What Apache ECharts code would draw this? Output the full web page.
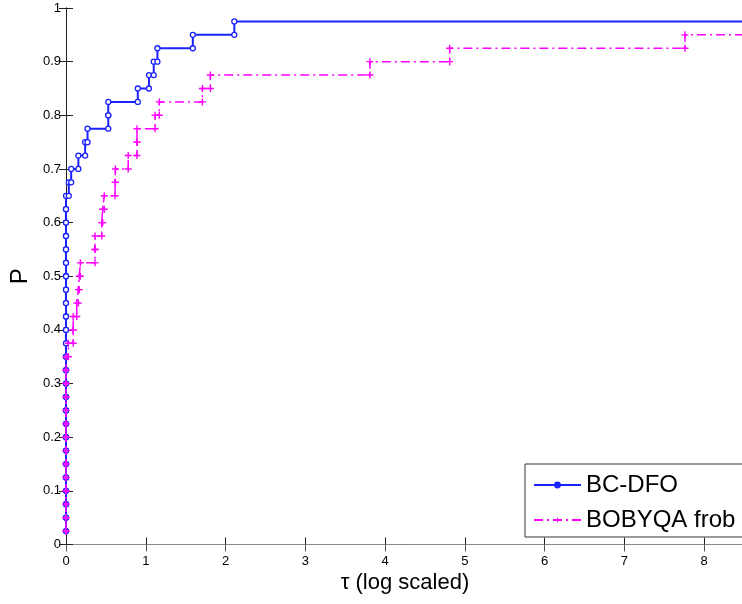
<!DOCTYPE html>
<html>
<head>
<meta charset="utf-8">
<script src="https://cdn.jsdelivr.net/npm/echarts@6/dist/echarts.min.js"></script>
<style>
html,body{margin:0;padding:0;background:#fff;}
#c{width:742px;height:604px;}
</style>
</head>
<body>
<div id="c"></div>
<script>
// ---- data ----
var seriesNames = ['BC-DFO', 'BOBYQA frob'];
var xTickLabels = ['0','1','2','3','4','5','6','7','8'];
var tauMax = 8.5;

var bcTau = [0,0,0,0,0,0,0,0,0,0,0,0,0,0,0,0,0,0,0,0,0,0,0,0,0,0,
             0.035,0.065,0.155,0.24,0.27,0.53,0.53,0.9,1.04,1.1,1.146,1.59,2.11];
var bcP   = [0.025,0.05,0.075,0.1,0.125,0.15,0.175,0.2,0.225,0.25,0.275,0.3,0.325,0.35,0.375,0.4,0.425,0.45,0.475,0.5,0.525,0.55,0.575,0.6,0.625,0.65,
             0.675,0.7,0.725,0.75,0.775,0.8,0.825,0.85,0.875,0.9,0.925,0.95,0.975];

var boTau = [0,0,0,0,0,0,0,0,0,0,0,0,0,0,
             0.03,0.09,0.09,0.135,0.155,0.167,0.18,0.364,0.364,0.448,0.46,0.48,0.615,0.62,0.78,0.89,0.89,1.117,1.17,1.71,1.81,3.81,4.81,7.76];
var boP   = [0.025,0.05,0.075,0.1,0.125,0.15,0.175,0.2,0.225,0.25,0.275,0.3,0.325,0.35,
             0.375,0.4,0.425,0.45,0.475,0.5,0.525,0.55,0.575,0.6,0.625,0.65,0.675,0.7,0.725,0.75,0.775,0.8,0.825,0.85,0.875,0.9,0.925,0.95];

// build stair vertices (markers at every corner, like MATLAB stairs output)
function stairs(t, p, xEnd) {
  var out = [];
  for (var i = 0; i < t.length; i++) {
    if (i > 0) out.push([t[i], p[i-1]]);
    out.push([t[i], p[i]]);
  }
  out.push({value: [xEnd, p[p.length-1]], symbol: 'none'});
  return out;
}

var blue = '#1a22ff';
var magenta = '#ff00ff';
var plusPath = 'path://M4,0 H6 V4 H10 V6 H6 V10 H4 V6 H0 V4 H4 Z';
var axisCol = '#222';
var font = 'Liberation Sans, Arial, Helvetica, sans-serif';

var chart = echarts.init(document.getElementById('c'), null, {renderer: 'canvas'});
chart.setOption({
  animation: false,
  backgroundColor: '#fff',
  textStyle: {fontFamily: font},
  grid: {left: 66, right: -2, top: 8, bottom: 59.5, containLabel: false, outerBoundsMode: 'none'},
  legend: {
    orient: 'vertical',
    left: 525, top: 464,
    padding: [8, 30, 4, 8],
    itemWidth: 47, itemHeight: 6, itemGap: 9,
    backgroundColor: '#fff',
    borderColor: '#333', borderWidth: 1, borderRadius: 0,
    textStyle: {fontSize: 24, lineHeight: 26, color: '#000', fontFamily: font},
    data: [
      {name: seriesNames[0], itemStyle: {color: blue, borderColor: blue}},
      {name: seriesNames[1], itemStyle: {color: magenta}}
    ]
  },
  xAxis: [{
    type: 'value', position: 'bottom', min: 0, max: tauMax, interval: 1,
    axisLine: {lineStyle: {color: axisCol, width: 1}},
    axisTick: {inside: true, length: 7, lineStyle: {color: axisCol}},
    splitLine: {show: false},
    axisLabel: {fontSize: 13, color: '#000', margin: 10, fontFamily: font,
      formatter: function (v) { var i = Math.round(v); return xTickLabels[i] !== undefined && Math.abs(v - i) < 1e-9 ? xTickLabels[i] : ''; }},
    name: 'τ (log scaled)', nameLocation: 'middle', nameGap: 27,
    nameTextStyle: {fontSize: 22, color: '#000', fontFamily: font}
  }, {
    type: 'value', position: 'top', min: 0, max: tauMax, interval: 1,
    axisLine: {lineStyle: {color: '#888', width: 1}},
    axisTick: {inside: true, length: 7, lineStyle: {color: '#555'}},
    splitLine: {show: false}, axisLabel: {show: false}
  }],
  yAxis: [{
    type: 'value', position: 'left', min: 0, max: 1, interval: 0.1,
    axisLine: {lineStyle: {color: axisCol, width: 1}},
    axisTick: {inside: true, length: 7, lineStyle: {color: axisCol}},
    splitLine: {show: false},
    axisLabel: {fontSize: 13, color: '#000', margin: 5, fontFamily: font},
    name: 'P', nameLocation: 'middle', nameGap: 32, nameRotate: 90,
    nameTextStyle: {fontSize: 24, color: '#000', fontFamily: font}
  }, {
    type: 'value', position: 'right', min: 0, max: 1, interval: 0.1,
    axisLine: {lineStyle: {color: axisCol}},
    axisTick: {inside: true, length: 7, lineStyle: {color: axisCol}},
    splitLine: {show: false}, axisLabel: {show: false}
  }],
  series: [{
    name: seriesNames[0], type: 'line', xAxisIndex: 0, yAxisIndex: 0,
    data: stairs(bcTau, bcP, tauMax),
    symbol: 'circle', symbolSize: 5, showSymbol: true,
    lineStyle: {color: blue, width: 2},
    itemStyle: {color: '#fff', borderColor: blue, borderWidth: 1.3},
    emphasis: {disabled: true}, z: 2
  }, {
    name: seriesNames[1], type: 'line', xAxisIndex: 0, yAxisIndex: 0,
    data: stairs(boTau, boP, tauMax),
    symbol: plusPath, symbolSize: 7, showSymbol: true,
    lineStyle: {color: magenta, width: 1.5, type: [9, 4, 2, 4]},
    itemStyle: {color: magenta},
    emphasis: {disabled: true}, z: 3
  }]
});
</script>
</body>
</html>
